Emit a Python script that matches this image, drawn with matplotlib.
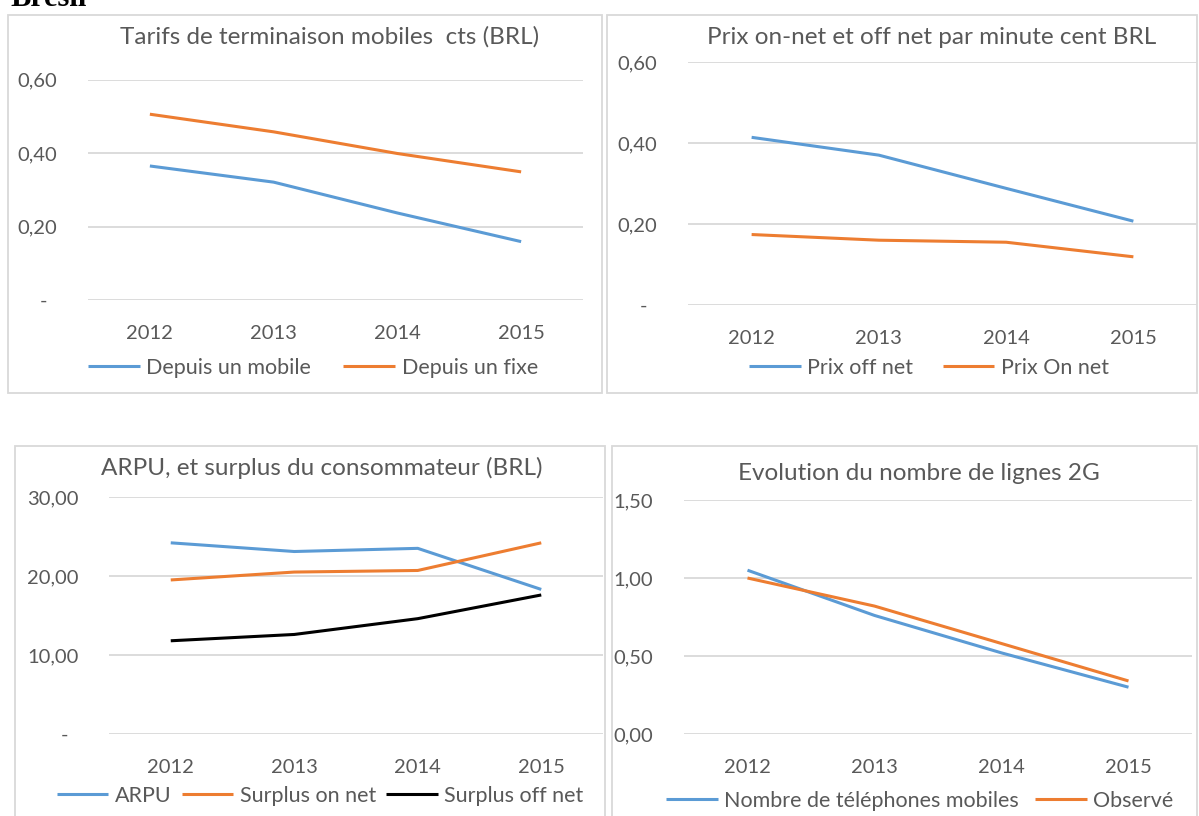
import matplotlib.pyplot as plt
from matplotlib.patches import Rectangle

years = ['2012', '2013', '2014', '2015']

# Tarifs de terminaison mobiles
depuis_mobile = [0.365, 0.321, 0.237, 0.159]
depuis_fixe = [0.506, 0.458, 0.399, 0.349]

# Prix on-net / off-net
prix_off_net = [0.414, 0.370, 0.288, 0.207]
prix_on_net = [0.174, 0.160, 0.155, 0.119]

# ARPU et surplus
arpu = [24.2, 23.1, 23.5, 18.3]
surplus_on_net = [19.5, 20.5, 20.7, 24.2]
surplus_off_net = [11.8, 12.6, 14.6, 17.6]

# Lignes 2G
nb_telephones = [1.05, 0.76, 0.52, 0.30]
observe = [1.00, 0.82, 0.58, 0.34]

W, H = 1199, 816
BLUE = '#5B9BD5'
ORANGE = '#ED7D31'
GRID = '#D9D9D9'
TXT = '#595959'
FS = 14.5      # tick labels
FS_LEG = 15.5
FS_TITLE = 17.5

plt.rcParams['font.family'] = ['Lato', 'DejaVu Sans']

fig = plt.figure(figsize=(W / 100, H / 100), dpi=100)


def box(l, t, r, b):
    return [l / W, 1 - b / H, (r - l) / W, (b - t) / H]


def frame(l, t, r, b):
    fig.patches.append(Rectangle((l / W, 1 - b / H), (r - l) / W, (b - t) / H,
                                 transform=fig.transFigure, fill=False,
                                 edgecolor=GRID, lw=1.3))


def panel(ax_box, series, ticks, ticklabels, title, title_xy, leg_xy, colsp):
    ax = fig.add_axes(box(*ax_box))
    x = range(len(years))
    handles = []
    for vals, color, label in series:
        h, = ax.plot(x, vals, color=color, lw=2.2, label=label,
                     solid_capstyle='butt')
        handles.append(h)
    ax.set_xlim(-0.5, 3.5)
    ax.set_ylim(ticks[0], ticks[-1])
    ax.set_yticks(ticks)
    ax.set_yticklabels(ticklabels)
    ax.set_xticks(list(x))
    ax.set_xticklabels(years)
    for s in ax.spines.values():
        s.set_visible(False)
    ax.grid(axis='y', color=GRID, lw=1.3)
    ax.set_axisbelow(True)
    ax.tick_params(length=0, labelsize=FS, colors=TXT)
    ax.tick_params(axis='x', pad=18)
    ax.tick_params(axis='y', pad=22)
    fig.text(title_xy[0] / W, 1 - title_xy[1] / H, title, ha='center',
             va='center', fontsize=FS_TITLE, color=TXT)
    fig.legend(handles=handles, loc='center',
               bbox_to_anchor=(leg_xy[0] / W, 1 - leg_xy[1] / H),
               ncol=len(handles), frameon=False, fontsize=FS_LEG,
               labelcolor=TXT, handlelength=2.4, handletextpad=0.3,
               columnspacing=colsp)
    return ax


frame(8, 15, 602, 393)
frame(607, 15, 1197, 393)
frame(15, 446, 605, 830)
frame(612, 446, 1197, 830)

# page heading, cut off at the top as in the source document
fig.text(10 / W, 1 - 6 / H, 'Brésil', fontsize=22, fontweight='bold',
         family='Liberation Serif', ha='left', va='baseline')

panel((88, 79.7, 583, 300),
      [(depuis_mobile, BLUE, 'Depuis un mobile'),
       (depuis_fixe, ORANGE, 'Depuis un fixe')],
      [0, 0.2, 0.4, 0.6], ['-  ', '0,20', '0,40', '0,60'],
      'Tarifs de terminaison mobiles  cts (BRL)', (330, 37), (313, 368), 1.5)

panel((688, 62, 1197, 305),
      [(prix_off_net, BLUE, 'Prix off net'),
       (prix_on_net, ORANGE, 'Prix On net')],
      [0, 0.2, 0.4, 0.6], ['-  ', '0,20', '0,40', '0,60'],
      'Prix on-net et off net par minute cent BRL', (932, 37), (929, 368), 1.35)

panel((109, 497, 603, 734),
      [(arpu, BLUE, 'ARPU'),
       (surplus_on_net, ORANGE, 'Surplus on net'),
       (surplus_off_net, 'black', 'Surplus off net')],
      [0, 10, 20, 30], ['-  ', '10,00', '20,00', '30,00'],
      'ARPU, et surplus du consommateur (BRL)', (322, 468), (320, 796), 0.47)

panel((684, 500, 1192, 734),
      [(nb_telephones, BLUE, 'Nombre de téléphones mobiles'),
       (observe, ORANGE, 'Observé')],
      [0, 0.5, 1.0, 1.5], ['0,00', '0,50', '1,00', '1,50'],
      'Evolution du nombre de lignes 2G', (919, 473), (920, 801), 0.75)

fig.savefig('out.png', dpi=100)
